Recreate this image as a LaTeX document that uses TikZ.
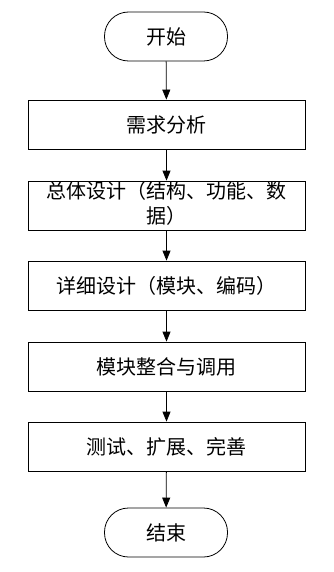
\documentclass[tikz,border=0pt]{standalone}
\usepackage{fontspec}
\newfontfamily\cjk{Noto Sans CJK SC}
\usetikzlibrary{arrows.meta}
\begin{document}
\begin{tikzpicture}[x=1pt,y=-1pt,
  every node/.style={font=\cjk\fontsize{20}{26}\selectfont},
  terminal/.style={draw,line width=0.8pt,rounded corners=24pt,minimum width=123pt,minimum height=49pt,inner sep=0pt},
  procbox/.style={draw,line width=0.8pt,minimum width=277pt,minimum height=49pt,inner sep=0pt,align=center},
  flow/.style={line width=0.8pt,-{Triangle[length=10pt,width=8pt]}}]
\useasboundingbox (0,0) rectangle (333,572);
\node[terminal] (start) at (166,36.5) {开始};
\node[procbox] (b1) at (166.5,124.5) {需求分析};
\node[procbox] (b2) at (166.5,205.5) {\raisebox{-5pt}[0pt][0pt]{\begin{tabular}{@{}c@{}}总体设计（结构、功能、数\\[-1pt]据）\end{tabular}}};
\node[procbox] (b3) at (166.5,285.5) {详细设计（模块、编码）};
\node[procbox] (b4) at (166.5,366.5) {模块整合与调用};
\node[procbox] (b5) at (166.5,446.5) {测试、扩展、完善};
\node[terminal] (stop) at (166,532.5) {结束};
\draw[flow] (start) -- (b1);
\draw[flow] (b1) -- (b2);
\draw[flow] (b2) -- (b3);
\draw[flow] (b3) -- (b4);
\draw[flow] (b4) -- (b5);
\draw[flow] (b5) -- (stop);
\end{tikzpicture}
\end{document}
